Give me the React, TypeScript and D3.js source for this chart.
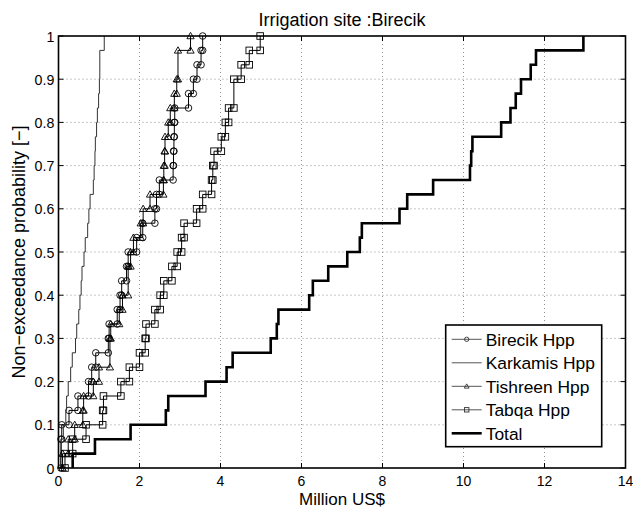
import React from "react";
import * as d3 from "d3";

const title = "Irrigation site :Birecik";
const xLabel = "Million US$";
const yLabel = "Non\u2212exceedance probability [\u2212]";
const xTicks = [0, 2, 4, 6, 8, 10, 12, 14];
const yTicks = [0, 0.1, 0.2, 0.3, 0.4, 0.5, 0.6, 0.7, 0.8, 0.9, 1];
const yTickLabels = ["0", "0.1", "0.2", "0.3", "0.4", "0.5", "0.6", "0.7", "0.8", "0.9", "1"];

const seriesNames = ["Birecik Hpp", "Karkamis Hpp", "Tishreen Hpp", "Tabqa Hpp", "Total"];

const birecik = [0.06, 0.06, 0.08, 0.26, 0.48, 0.74, 0.82, 0.92, 1.23, 1.25, 1.45, 1.52, 1.56, 1.68, 1.72, 1.93, 2.08, 2.38, 2.42, 2.49, 2.83, 2.84, 2.85, 2.86, 2.87, 3.21, 3.33, 3.42, 3.52, 3.56];
const karkamis = [0.05, 0.07, 0.12, 0.18, 0.2, 0.24, 0.3, 0.34, 0.42, 0.45, 0.5, 0.53, 0.56, 0.58, 0.63, 0.66, 0.72, 0.75, 0.78, 0.86, 0.88, 0.9, 0.91, 0.94, 0.96, 0.99, 1.01, 1.02, 1.02, 1.13];
const tishreen = [0.1, 0.24, 0.4, 0.6, 0.62, 0.86, 1.0, 1.27, 1.27, 1.29, 1.5, 1.58, 1.72, 1.72, 1.78, 1.85, 2.03, 2.09, 2.26, 2.59, 2.6, 2.62, 2.63, 2.71, 2.76, 2.86, 2.92, 2.95, 2.95, 3.26];
const tabqa = [0.16, 0.35, 0.68, 1.09, 1.11, 1.54, 1.75, 2.0, 2.14, 2.16, 2.38, 2.51, 2.6, 2.8, 2.93, 3.04, 3.1, 3.41, 3.56, 3.78, 3.81, 3.84, 4.02, 4.12, 4.2, 4.33, 4.33, 4.51, 4.71, 4.98];
const total = [0.35, 0.9, 1.78, 2.65, 2.71, 3.63, 4.15, 4.3, 5.24, 5.39, 5.43, 6.19, 6.28, 6.66, 7.13, 7.44, 7.49, 8.42, 8.61, 9.25, 10.16, 10.19, 10.22, 10.93, 11.16, 11.29, 11.42, 11.66, 11.79, 12.96];

const W = 633, H = 508;
const L = 58.5, R = 625.5, T = 36, B = 468;
const FONT = "'Liberation Sans', Arial, Helvetica, sans-serif";

const x = d3.scaleLinear().domain([0, 14]).range([L, R]);
const y = d3.scaleLinear().domain([0, 1]).range([B, T]);

function ecdfVertices(vals: number[]): [number, number][] {
  const sorted = [...vals].sort((a, b) => a - b);
  const n = sorted.length;
  const groups = d3.rollups(sorted, (v) => v.length, (d) => d).sort((a, b) => a[0] - b[0]);
  const pts: [number, number][] = [];
  let cum = 0;
  groups.forEach(([v, c]) => {
    pts.push([v, cum / n]);
    cum += c;
    pts.push([v, cum / n]);
  });
  return pts;
}

const lineGen = d3.line<[number, number]>().x((d) => x(d[0])).y((d) => y(d[1]));

function Marker({ type, cx, cy, s, color = "#000" }: { type: string; cx: number; cy: number; s: number; color?: string }) {
  if (type === "circle") return <circle cx={cx} cy={cy} r={s} fill="none" stroke={color} strokeWidth={0.9} />;
  if (type === "square") return <rect x={cx - s} y={cy - s} width={2 * s} height={2 * s} fill="none" stroke={color} strokeWidth={0.9} />;
  if (type === "triangle") {
    const h = s * 1.1;
    return <path d={`M${cx},${cy - h}L${cx + h},${cy + h * 0.75}L${cx - h},${cy + h * 0.75}Z`} fill="none" stroke={color} strokeWidth={0.9} />;
  }
  return null;
}

const seriesDefs = [
  { name: seriesNames[0], data: birecik, marker: "circle", color: "#000", width: 1 },
  { name: seriesNames[1], data: karkamis, marker: "none", color: "#333", width: 1 },
  { name: seriesNames[2], data: tishreen, marker: "triangle", color: "#000", width: 1 },
  { name: seriesNames[3], data: tabqa, marker: "square", color: "#000", width: 1 },
  { name: seriesNames[4], data: total, marker: "none", color: "#000", width: 2.6 },
];

export default function App() {
  const legX = 445.7, legY = 325, legW = 156, legH = 121.7;
  return (
    <svg width={W} height={H} style={{ position: "absolute", left: 0, top: 0, background: "#fff" }} fontFamily={FONT}>
      <rect x={0} y={0} width={W} height={H} fill="#fff" />
      {xTicks.filter((t) => t > 0 && t < 14).map((t) => (
        <line key={"gx" + t} x1={x(t)} x2={x(t)} y1={T} y2={B} stroke="#777" strokeWidth={0.8} strokeDasharray="1 3" />
      ))}
      {yTicks.filter((t) => t > 0 && t < 1).map((t) => (
        <line key={"gy" + t} x1={L} x2={R} y1={y(t)} y2={y(t)} stroke="#777" strokeWidth={0.8} strokeDasharray="1 3" />
      ))}
      {seriesDefs.map((s) => {
        const pts = ecdfVertices(s.data);
        return (
          <g key={s.name}>
            <path d={lineGen(pts) || ""} fill="none" stroke={s.color} strokeWidth={s.width} strokeLinejoin="miter" />
            {s.marker !== "none" &&
              pts.map((p, i) => <Marker key={i} type={s.marker} cx={x(p[0])} cy={y(p[1])} s={3.3} />)}
          </g>
        );
      })}
      <rect x={L} y={T} width={R - L} height={B - T} fill="none" stroke="#000" strokeWidth={1.6} />
      {xTicks.map((t) => (
        <g key={"tx" + t}>
          <line x1={x(t)} x2={x(t)} y1={B} y2={B - 5} stroke="#000" strokeWidth={1} />
          <line x1={x(t)} x2={x(t)} y1={T} y2={T + 5} stroke="#000" strokeWidth={1} />
          <text x={x(t)} y={486} textAnchor="middle" fontSize={14}>{t}</text>
        </g>
      ))}
      {yTicks.map((t, i) => (
        <g key={"ty" + t}>
          <line x1={L} x2={L + 5} y1={y(t)} y2={y(t)} stroke="#000" strokeWidth={1} />
          <line x1={R} x2={R - 5} y1={y(t)} y2={y(t)} stroke="#000" strokeWidth={1} />
          <text x={54.3} y={y(t) + 5.5} textAnchor="end" fontSize={14.2}>{yTickLabels[i]}</text>
        </g>
      ))}
      <text x={(L + R) / 2} y={25.5} textAnchor="middle" fontSize={18}>{title}</text>
      <text x={(L + R) / 2} y={504.5} textAnchor="middle" fontSize={17}>{xLabel}</text>
      <text transform={`translate(24.5,${(T + B) / 2}) rotate(-90)`} textAnchor="middle" fontSize={18}>{yLabel}</text>
      <rect x={legX} y={legY} width={legW} height={legH} fill="#fff" stroke="#000" strokeWidth={1.6} />
      {seriesDefs.map((s, i) => {
        const cy = 339.3 + i * 23.5;
        return (
          <g key={"leg" + s.name}>
            <line x1={451.7} x2={481.7} y1={cy} y2={cy} stroke={s.name === "Total" ? "#000" : "#555"} strokeWidth={s.width} />
            {s.marker !== "none" && <Marker type={s.marker} cx={466.7} cy={cy} s={2.2} color="#333" />}
            <text x={485.7} y={cy + 6.2} fontSize={17.4}>{s.name}</text>
          </g>
        );
      })}
    </svg>
  );
}
